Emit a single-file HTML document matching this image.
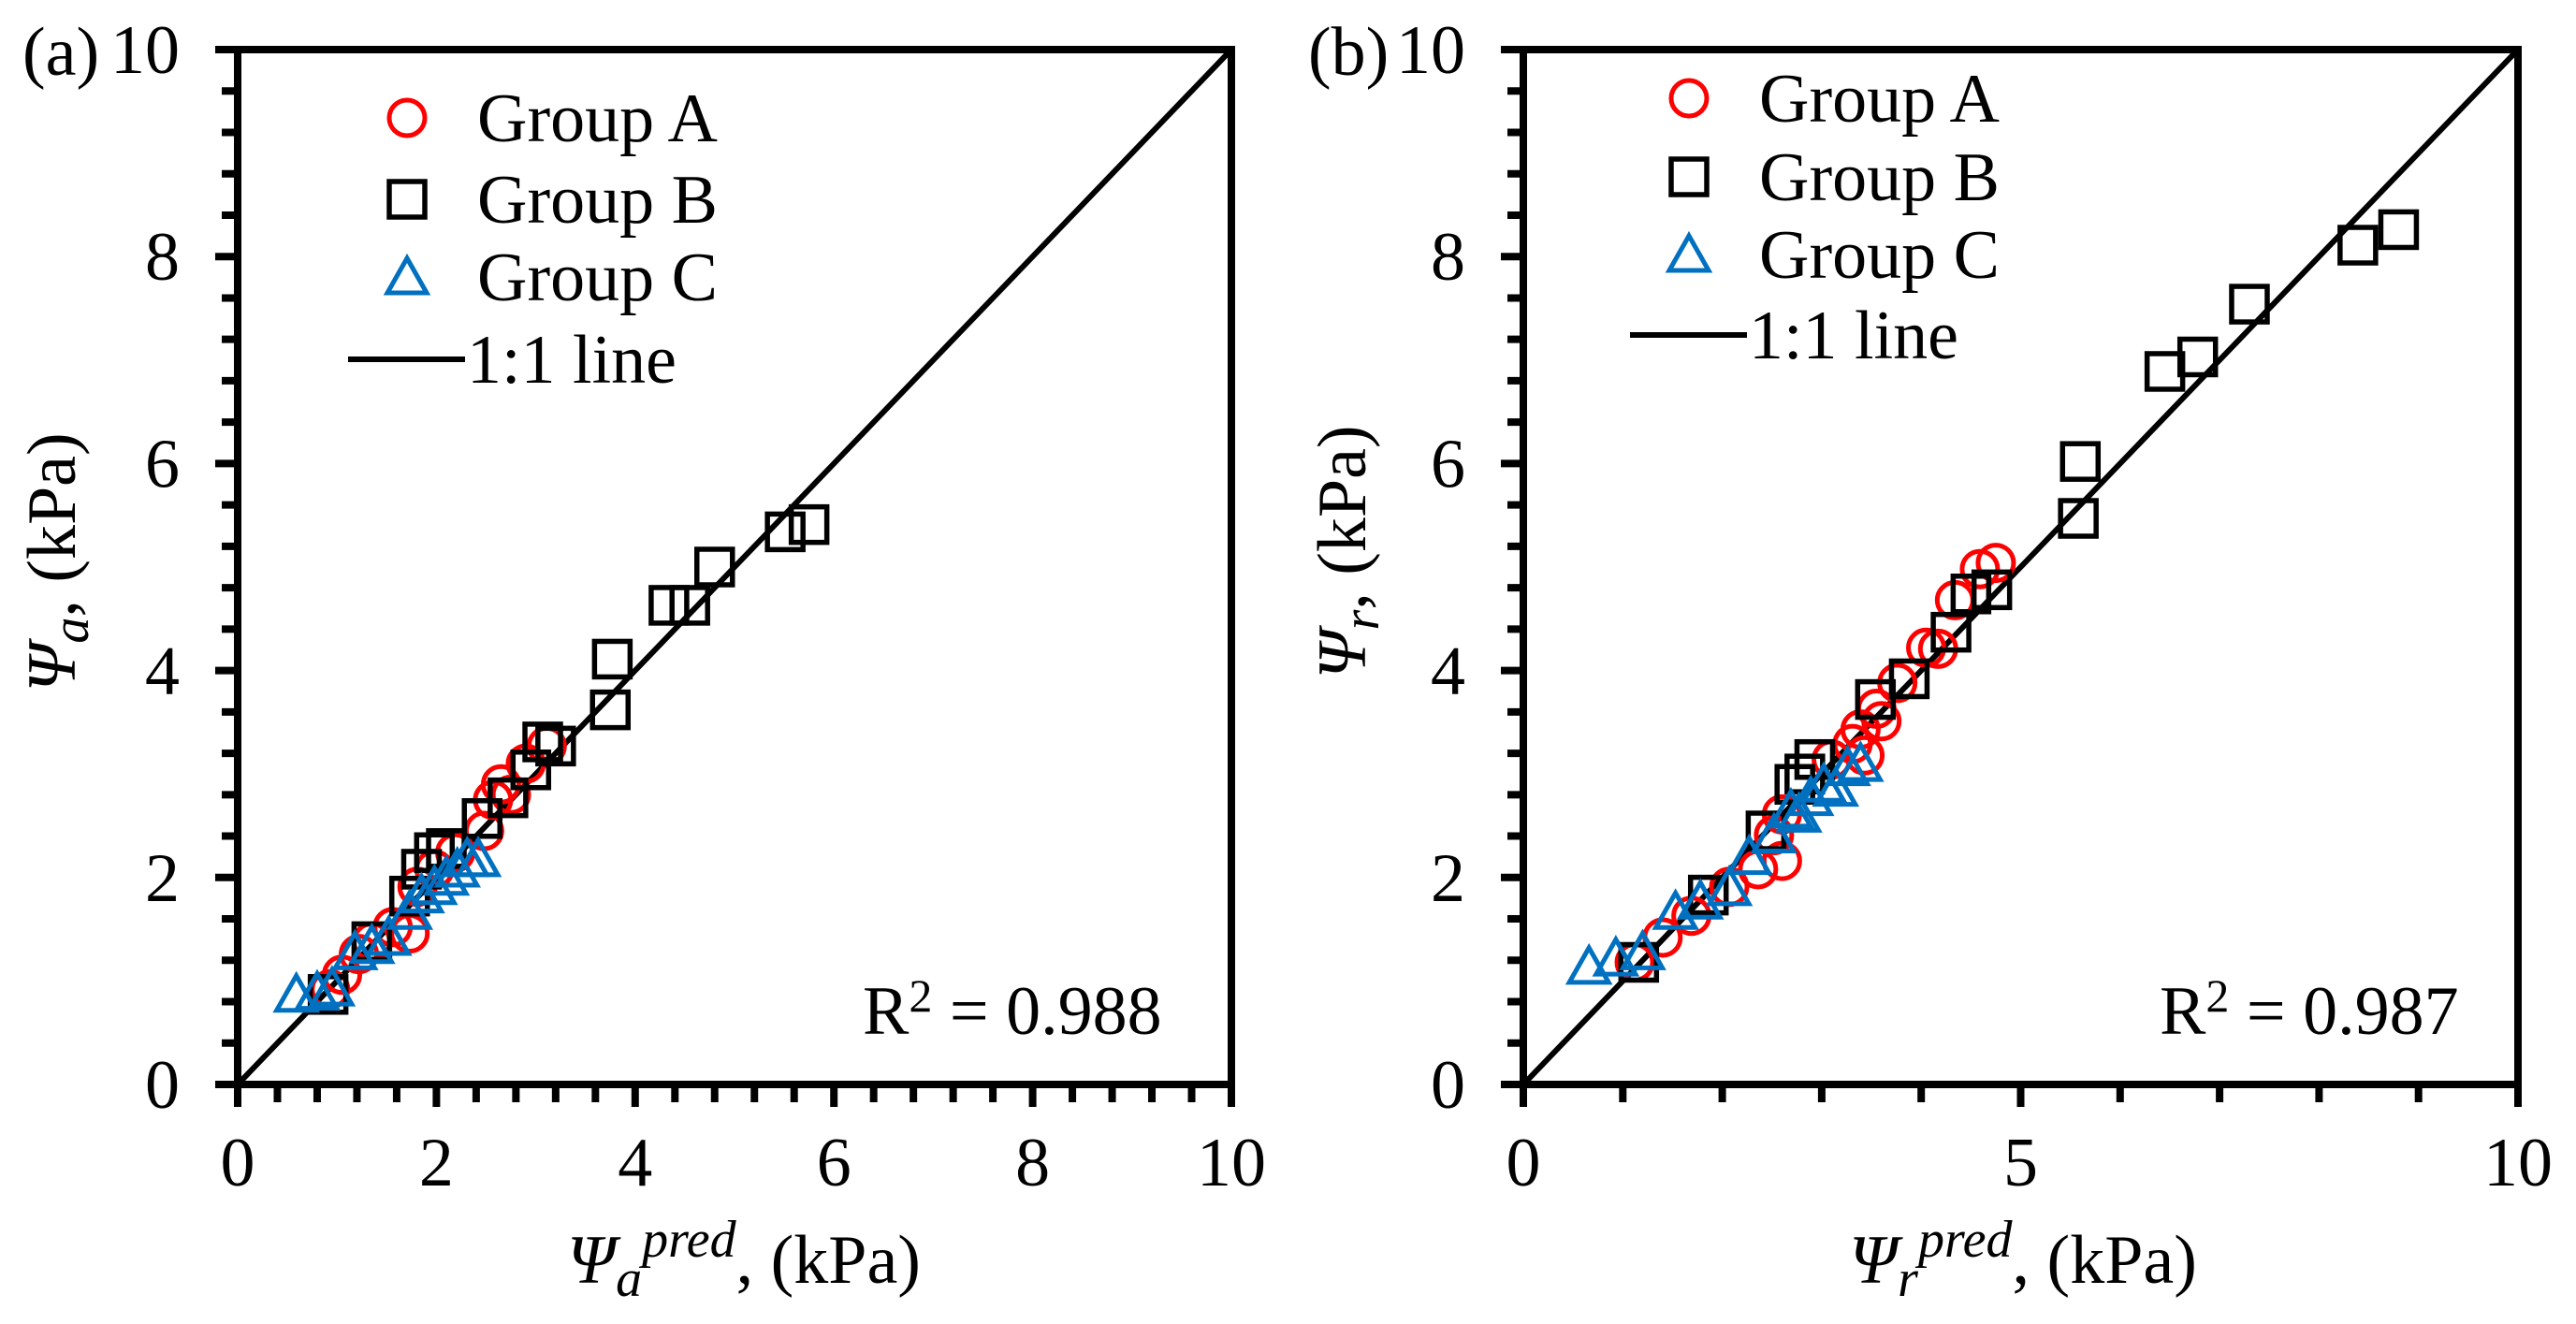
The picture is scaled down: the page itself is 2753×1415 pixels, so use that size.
<!DOCTYPE html>
<html><head><meta charset="utf-8"><style>
html,body{margin:0;padding:0;background:#fff;}
svg{display:block;font-family:"Liberation Serif","Times New Roman",serif;}
</style></head><body>
<svg id="chart" width="2753" height="1415" viewBox="0 0 2753 1415" xmlns="http://www.w3.org/2000/svg"></svg>
<script>
// Panel (a) data
const aGroupAx=[3.11,2.90,2.65,2.57,2.48,2.19,1.98,1.81,1.73,1.56,1.35,1.22,1.05,0.93,2.75];
const aGroupAy=[3.27,3.10,2.90,2.75,2.45,2.24,2.08,1.91,1.46,1.52,1.38,1.26,1.06,0.92,2.80];
const aGroupBx=[5.51,5.75,4.80,4.34,4.55,3.77,3.75,3.07,3.20,2.95,2.72,2.46,1.98,2.10,1.85,1.73,1.35,0.91];
const aGroupBy=[5.34,5.41,5.00,4.63,4.63,4.11,3.62,3.31,3.27,3.04,2.77,2.57,2.24,2.28,2.08,1.82,1.38,0.87];
const aGroupCx=[0.59,0.80,0.95,1.18,1.35,1.52,1.73,1.85,1.98,2.10,2.21,2.31,2.42];
const aGroupCy=[0.87,0.89,0.93,1.28,1.34,1.42,1.67,1.83,1.91,2.00,2.08,2.18,2.18];
// Panel (b) data
const bGroupAx=[4.75,4.59,4.34,4.17,4.05,3.76,3.60,3.55,3.39,3.43,3.31,3.10,2.60,2.36,2.52,2.60,2.07,1.69,1.40,1.12];
const bGroupAy=[5.04,4.98,4.68,4.21,4.22,3.88,3.51,3.63,3.43,3.18,3.29,3.14,2.16,2.08,2.41,2.61,1.91,1.63,1.42,1.18];
const bGroupBx=[8.80,8.39,7.30,6.78,6.45,5.60,5.58,4.71,4.50,4.30,3.88,3.54,2.93,2.83,2.73,2.44,1.86,1.16];
const bGroupBy=[8.26,8.11,7.54,7.03,6.89,6.02,5.47,4.78,4.74,4.37,3.92,3.72,3.14,3.00,2.90,2.45,1.83,1.18];
const bGroupCx=[0.66,0.93,1.20,1.53,1.78,2.07,2.27,2.52,2.69,2.77,2.89,3.02,3.14,3.26,3.39];
const bGroupCy=[1.14,1.22,1.28,1.67,1.77,1.90,2.20,2.41,2.65,2.61,2.77,2.90,2.86,3.06,3.10];
const yTickLabels=["0","2","4","6","8","10"];
const aXTickLabels=["0","2","4","6","8","10"];
const bXTickLabels=["0","5","10"];
const r2Values=["0.988","0.987"];

const NS="http://www.w3.org/2000/svg";
const svg=document.getElementById('chart');
const FS=74;
function mk(tag,attrs,parent){const e=document.createElementNS(NS,tag);for(const k in attrs)e.setAttribute(k,attrs[k]);(parent||svg).appendChild(e);return e;}

function panel(p){
  const g=mk('g',{});
  
  
  const L=p.x0,R=p.x1,T=53,B=1159;
  const sx=v=>L+(R-L)*v/10, sy=v=>B-(B-T)*v/10;
  const ln=mk('line',{x1:sx(0),y1:sy(0),x2:sx(10),y2:sy(10),stroke:'#000','stroke-width':6},g);
  
  
  const drawCircles=(xs,ys)=>xs.forEach((x,i)=>{const c=mk('circle',{cx:sx(x),cy:sy(ys[i]),r:19,fill:'none',stroke:'#ff0000','stroke-width':5},g);
    
    });
  const drawSquares=(xs,ys)=>xs.forEach((x,i)=>{const c=mk('rect',{x:sx(x)-19,y:sy(ys[i])-19,width:38,height:38,fill:'none',stroke:'#000','stroke-width':5.5},g);
    
    });
  const tri=(cx,cy)=>`${cx-21},${cy+17} ${cx+21},${cy+17} ${cx},${cy-20}`;
  const drawTris=(xs,ys)=>xs.forEach((x,i)=>{const c=mk('polygon',{points:tri(sx(x),sy(ys[i])),fill:'none',stroke:'#0070c0','stroke-width':5},g);
    
    });
  drawCircles(p.ax,p.ay);drawSquares(p.bx,p.by);drawTris(p.cx,p.cy);
  const fr=mk('rect',{x:L,y:T,width:R-L,height:B-T,fill:'none',stroke:'#000','stroke-width':8},g);
  
  
  for(let i=0;i<=25;i++){const v=i*0.4,y=sy(v),maj=(i%5===0);
    mk('line',{x1:L,x2:L-(maj?24:17),y1:y,y2:y,stroke:'#000','stroke-width':8},g);}
  yTickLabels.forEach(t=>{const e=mk('text',{x:L-62,y:sy(+t)+25,'text-anchor':'end','font-size':FS},g);e.textContent=t;
    
    });
  for(let i=0;i<=p.nMinor;i++){const v=i*10/p.nMinor,x=sx(v),maj=(i%p.majEvery===0);
    mk('line',{x1:x,x2:x,y1:B,y2:B+(maj?24:19),stroke:'#000','stroke-width':8},g);}
  p.xlabels.forEach(t=>{const e=mk('text',{x:sx(+t),y:1267,'text-anchor':'middle','font-size':FS},g);e.textContent=t;
    
    });
  const pl=mk('text',{x:p.letterX,y:80,'font-size':FS},g);pl.textContent='('+p.id+')';
  
  
  const xt=mk('text',{x:p.xtX,y:1371,'text-anchor':'middle','font-size':FS},g);
  xt.innerHTML=`<tspan font-style="italic">Ψ</tspan><tspan font-style="italic" font-size="56" dy="14">${p.sub}</tspan><tspan font-style="italic" font-size="56" dy="-42">pred</tspan><tspan dy="28">, (kPa)</tspan>`;
  
  
  const yt=mk('text',{x:0,y:0,'text-anchor':'middle','font-size':FS,transform:`translate(${p.ytX},${p.ytY}) rotate(-90)`},g);
  yt.innerHTML=`<tspan font-style="italic">Ψ</tspan><tspan font-style="italic" font-size="56" dy="14">${p.sub}</tspan><tspan dy="-14">, (kPa)</tspan>`;
  
  
  const lg=mk('g',{},g);
  
  
  const mx=p.legX,ty=p.legY;
  mk('circle',{cx:mx,cy:ty[0],r:19,fill:'none',stroke:'#ff0000','stroke-width':5},lg);
  mk('rect',{x:mx-19,y:ty[1]-19,width:38,height:38,fill:'none',stroke:'#000','stroke-width':5.5},lg);
  mk('polygon',{points:tri(mx,ty[2]),fill:'none',stroke:'#0070c0','stroke-width':5},lg);
  mk('line',{x1:mx-63,x2:mx+62,y1:ty[3],y2:ty[3],stroke:'#000','stroke-width':6},lg);
  ['Group A','Group B','Group C','1:1 line'].forEach((t,i)=>{const e=mk('text',{x:i===3?mx+64:mx+75,y:ty[i]+25,'font-size':FS},lg);e.textContent=t;
    
    });
  const r=mk('text',{x:p.r2X,y:1105,'font-size':FS},g);
  r.innerHTML=`R<tspan font-size="50" dy="-24">2</tspan><tspan dy="24"> = ${p.r2}</tspan>`;
  
  
}
panel({id:'a',x0:254,x1:1316,ax:aGroupAx,ay:aGroupAy,bx:aGroupBx,by:aGroupBy,cx:aGroupCx,cy:aGroupCy,
  nMinor:25,majEvery:5,xlabels:aXTickLabels,letterX:24,xtX:795,sub:'a',ytX:80,ytY:601,
  legX:435,legY:[126,213,296,384],r2X:922,r2:r2Values[0]});
panel({id:'b',x0:1628,x1:2691,ax:bGroupAx,ay:bGroupAy,bx:bGroupBx,by:bGroupBy,cx:bGroupCx,cy:bGroupCy,
  nMinor:10,majEvery:5,xlabels:bXTickLabels,letterX:1398,xtX:2162,sub:'r',ytX:1459,ytY:590,
  legX:1805,legY:[105,189,272,358],r2X:2308,r2:r2Values[1]});
</script>
</body></html>
